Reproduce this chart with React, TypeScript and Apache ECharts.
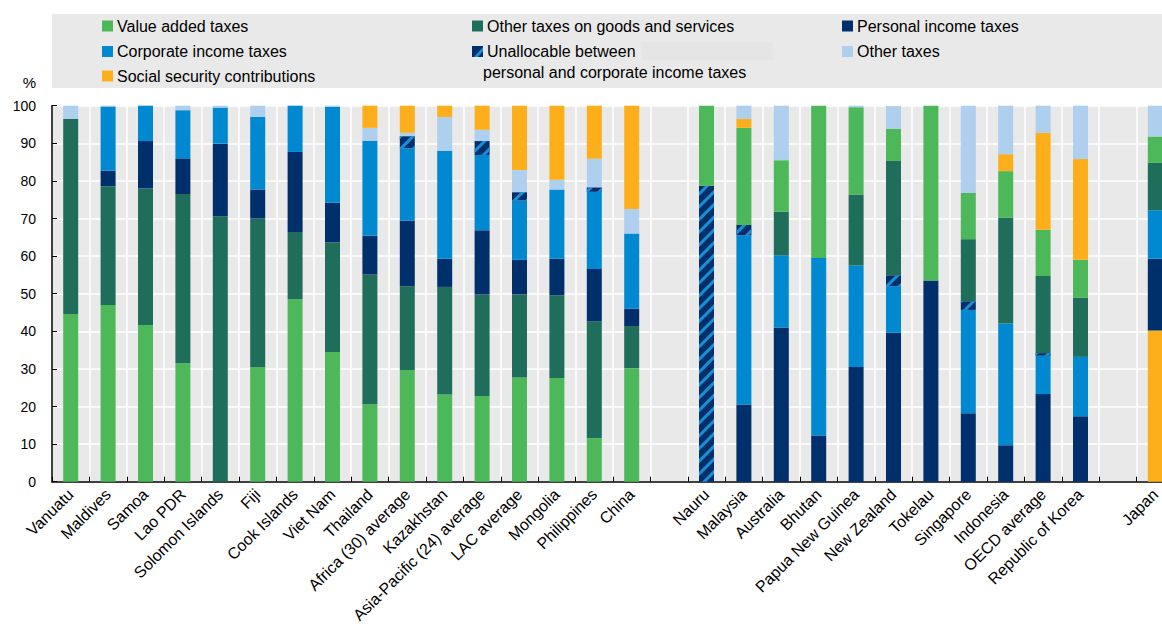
import React, { useEffect, useRef } from "react";
import * as echarts from "echarts";

const GROUP1 = ["Vanuatu", "Maldives", "Samoa", "Lao PDR", "Solomon Islands", "Fiji", "Cook Islands", "Viet Nam", "Thailand", "Africa (30) average", "Kazakhstan", "Asia-Pacific (24) average", "LAC average", "Mongolia", "Philippines", "China"];
const GROUP2 = ["Nauru", "Malaysia", "Australia", "Bhutan", "Papua New Guinea", "New Zealand", "Tokelau", "Singapore", "Indonesia", "OECD average", "Republic of Korea"];
const GROUP3 = ["Japan"];
const categories = [...GROUP1, " ", ...GROUP2, "  ", ...GROUP3];

const vat = [44.6, 47.0, 41.7, 31.5, 0, 30.5, 48.5, 34.5, 20.6, 29.7, 23.2, 22.8, 27.7, 27.6, 11.6, 30.2, null, 21.3, 25.8, 13.7, 40.5, 23.2, 8.5, 46.5, 12.3, 12.4, 12.3, 10.1, null, 7.0];
const ogs = [51.9, 31.6, 36.3, 45.0, 70.6, 39.5, 17.9, 29.2, 34.5, 22.3, 28.6, 27.0, 22.1, 22.0, 31.0, 11.2, null, 0, 0, 11.6, 0, 18.9, 30.4, 0, 16.5, 28.1, 20.5, 15.7, null, 12.6];
const pit = [0, 4.1, 12.6, 9.5, 19.3, 7.7, 21.3, 10.5, 10.3, 17.4, 7.5, 17.1, 9.2, 9.7, 14.0, 4.6, null, 0, 20.5, 41.0, 12.3, 30.5, 39.6, 53.5, 18.2, 9.7, 23.3, 17.4, null, 19.1];
const cit = [0, 17.1, 9.4, 12.8, 9.6, 19.3, 12.3, 25.5, 25.3, 19.3, 28.7, 20.0, 15.8, 18.4, 20.5, 20.0, null, 0, 45.0, 19.2, 47.2, 27.0, 12.4, 0, 27.5, 32.4, 10.2, 15.8, null, 12.9];
const unalloc = [0, 0, 0, 0, 0, 0, 0, 0, 0, 3.2, 0, 3.7, 2.2, 0, 1.2, 0, null, 78.7, 2.8, 0, 0, 0, 2.9, 0, 2.3, 0, 0.7, 0, null, 0];
const other = [3.5, 0.2, 0, 1.2, 0.5, 3.0, 0, 0.3, 3.4, 0.9, 9.0, 3.0, 5.9, 2.6, 7.6, 6.5, null, 0, 3.5, 14.5, 0, 0.4, 6.1, 0, 23.2, 12.9, 7.2, 14.2, null, 8.2];
const ssc = [0, 0, 0, 0, 0, 0, 0, 0, 5.9, 7.2, 3.0, 6.4, 17.1, 19.7, 14.1, 27.5, null, 0, 2.4, 0, 0, 0, 0, 0, 0, 4.5, 25.8, 26.8, null, 40.2];

const yTicks = [0, 10, 20, 30, 40, 50, 60, 70, 80, 90, 100];

const FONT = 'Arial, "Liberation Sans", sans-serif';

const C = {
  vat: "#4CB85A",
  ogs: "#1F6E5B",
  pit: "#00306B",
  cit: "#0089D0",
  unalloc: "#00306B",
  other: "#AFCFEE",
  ssc: "#FDAF1B",
};

const NAMES: Record<string, string> = {
  vat: "Value added taxes",
  ogs: "Other taxes on goods and services",
  pit: "Personal income taxes",
  cit: "Corporate income taxes",
  unalloc: "Unallocable between personal and corporate income taxes",
  other: "Other taxes",
  ssc: "Social security contributions",
};

const VALUES: Record<string, (number | null)[]> = { vat, ogs, pit, cit, unalloc, other, ssc };

const ORDERS = [
  ["vat", "ogs", "pit", "cit", "unalloc", "other", "ssc"],
  ["pit", "cit", "unalloc", "ogs", "vat", "ssc", "other"],
  ["ssc", "pit", "cit", "ogs", "vat", "other"],
];

function groupOf(i: number) {
  if (i < GROUP1.length) return 0;
  if (i > GROUP1.length && i <= GROUP1.length + GROUP2.length) return 1;
  if (i > GROUP1.length + GROUP2.length + 1) return 2;
  return -1;
}

export default function App() {
  const ref = useRef<HTMLDivElement>(null);
  useEffect(() => {
    if (!ref.current) return;
    const chart = echarts.init(ref.current, null, { renderer: "svg" });

    const series: any[] = [];
    ORDERS.forEach((order, g) => {
      order.forEach((key) => {
        const data = VALUES[key].map((v, i) => (groupOf(i) === g && v ? v : "-"));
        const itemStyle: any = { color: C[key as keyof typeof C] };
        if (key === "unalloc") {
          itemStyle.decal = {
            symbol: "rect",
            symbolSize: 1,
            color: "#1A8ED6",
            dashArrayX: [1, 0],
            dashArrayY: [3, 6],
            rotation: -Math.PI / 4,
          };
        }
        series.push({
          name: NAMES[key],
          type: "bar",
          stack: "all",
          barWidth: 15,
          data,
          itemStyle,
          silent: true,
        });
      });
    });

    const legendItems = [
      { key: "vat", x: 102, y: 26 },
      { key: "cit", x: 102, y: 51.5 },
      { key: "ssc", x: 102, y: 76 },
      { key: "ogs", x: 472, y: 26 },
      { key: "pit", x: 842, y: 26 },
      { key: "other", x: 842, y: 51.5 },
    ];

    const graphic: any[] = [
      { type: "rect", shape: { x: 52, y: 14, width: 1140, height: 74 }, style: { fill: "#E9E9E9" }, z: 0 },
      { type: "rect", shape: { x: 642, y: 42, width: 131, height: 18 }, style: { fill: "#E5E5E5" }, z: 0 },
    ];
    legendItems.forEach((it) => {
      graphic.push({ type: "rect", shape: { x: it.x, y: it.y - 5.5, width: 11, height: 11 }, style: { fill: C[it.key as keyof typeof C] }, z: 1 });
      graphic.push({
        type: "text",
        x: it.x + 15,
        y: it.y,
        style: { text: NAMES[it.key], fontSize: 16, fontFamily: FONT, fill: "#000", verticalAlign: "middle" },
        z: 1,
      });
    });
    // unallocable legend item
    graphic.push({ type: "rect", shape: { x: 472, y: 46, width: 11, height: 11 }, style: { fill: "#00306B" }, z: 1 });
    graphic.push({ type: "polygon", shape: { points: [[474, 57], [478, 57], [483, 51], [483, 47]] }, style: { fill: "#1A8ED6" }, z: 2 });
    graphic.push({
      type: "text",
      x: 487,
      y: 51.5,
      style: { text: "Unallocable between", fontSize: 16, fontFamily: FONT, fill: "#000", verticalAlign: "middle" },
      z: 1,
    });
    graphic.push({
      type: "text",
      x: 483,
      y: 72,
      style: { text: "personal and corporate income taxes", fontSize: 16, fontFamily: FONT, fill: "#000", verticalAlign: "middle" },
      z: 1,
    });
    graphic.push({
      type: "text",
      x: 36,
      y: 82,
      style: { text: "%", fontSize: 15, fontFamily: FONT, fill: "#000", align: "right", verticalAlign: "middle" },
      z: 1,
    });

    chart.setOption({
      animation: false,
      grid: {
        left: 52,
        right: 6,
        top: 105.7,
        bottom: 155.3,
        show: true,
        backgroundColor: "#E9E9E9",
        borderWidth: 0,
      },
      xAxis: {
        type: "category",
        data: categories,
        axisLine: { lineStyle: { color: "#000", width: 1.5 } },
        axisTick: { show: true, inside: true, length: 5, lineStyle: { color: "#000" } },
        splitLine: { show: true, lineStyle: { color: "#fff", width: 1.5 } },
        axisLabel: { interval: 0, rotate: 45, fontSize: 16, fontFamily: FONT, color: "#000", margin: 10 },
      },
      yAxis: {
        type: "value",
        min: yTicks[0],
        max: yTicks[yTicks.length - 1],
        interval: 10,
        axisLine: { show: true, lineStyle: { color: "#000", width: 1.5 } },
        axisTick: { show: true, inside: true, length: 5, lineStyle: { color: "#000" } },
        splitLine: { show: true, lineStyle: { color: "#fff", width: 1.5 } },
        axisLabel: { fontSize: 14, fontFamily: FONT, color: "#000", margin: 16 },
      },
      graphic,
      series,
    });
    return () => chart.dispose();
  }, []);

  return (
    <div style={{ position: "fixed", left: 0, top: 0, width: 1162, height: 637, overflow: "hidden", background: "#fff" }}>
      <div ref={ref} style={{ width: 1180, height: 637 }} />
    </div>
  );
}
